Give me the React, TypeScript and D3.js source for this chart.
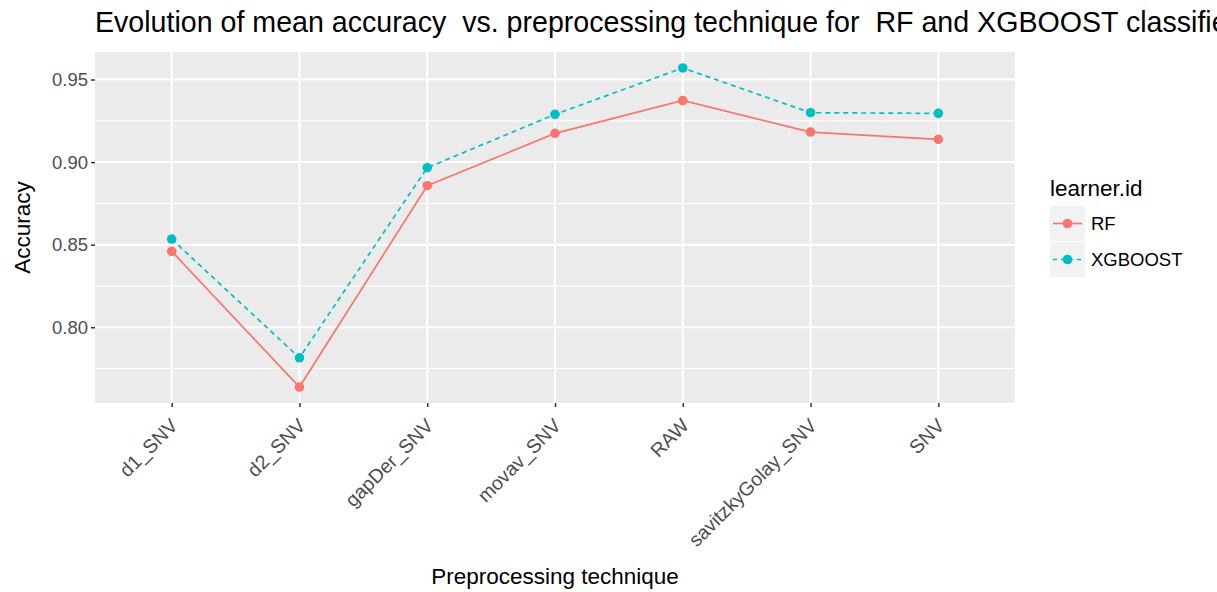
import { useEffect, useRef } from 'react'
import * as d3 from 'd3'

// data
const techniques = ['d1_SNV', 'd2_SNV', 'gapDer_SNV', 'movav_SNV', 'RAW', 'savitzkyGolay_SNV', 'SNV']
const rfAccuracy = [0.846, 0.7638, 0.8857, 0.9174, 0.9373, 0.9182, 0.9138]
const xgbAccuracy = [0.8534, 0.7815, 0.8966, 0.9289, 0.957, 0.9299, 0.9295]
const yTicks = [0.8, 0.85, 0.9, 0.95]
const learners = ['RF', 'XGBOOST']
const learnerColors = ['#F8766D', '#00BFC4']

const W = 1217
const H = 592
const FONT = 'Liberation Sans, Arial, sans-serif'

const App = () => {
  const ref = useRef<SVGSVGElement>(null)

  useEffect(() => {
    if (!ref.current) return
    const svg = d3.select(ref.current)
    svg.selectAll('*').remove()

    const margin = { top: 52, right: 202, bottom: 189, left: 95 }
    const width = W - margin.left - margin.right
    const height = H - margin.top - margin.bottom

    // ggplot style discrete x with 0.6 expansion
    const x = d3.scalePoint<string>()
      .domain(techniques)
      .range([0, width])
      .padding(0.6)

    // 5% expansion like ggplot
    const all = rfAccuracy.concat(xgbAccuracy)
    const lo = d3.min(all) as number
    const hi = d3.max(all) as number
    const pad = (hi - lo) * 0.05
    const y = d3.scaleLinear().domain([lo - pad, hi + pad]).range([height, 0])

    // title (runs off the right edge, as in the original)
    svg.append('text')
      .attr('x', 95)
      .attr('y', 32)
      .style('font-family', FONT)
      .style('font-size', '28.6px')
      .style('fill', '#000')
      .style('white-space', 'pre')
      .text('Evolution of mean accuracy  vs. preprocessing technique for  RF and XGBOOST classifier')

    const g = svg.append('g').attr('transform', `translate(${margin.left},${margin.top})`)

    // panel
    g.append('rect')
      .attr('width', width)
      .attr('height', height)
      .attr('fill', '#EBEBEB')

    // minor grid
    const minor = yTicks.slice(0, -1).map((t, i) => (t + yTicks[i + 1]) / 2)
    minor.unshift(yTicks[0] - 0.025)
    minor.push(yTicks[yTicks.length - 1] + 0.025)
    g.selectAll('.minor')
      .data(minor.filter(v => v > y.domain()[0] && v < y.domain()[1]))
      .enter()
      .append('line')
      .attr('x1', 0)
      .attr('x2', width)
      .attr('y1', d => y(d))
      .attr('y2', d => y(d))
      .attr('stroke', '#fff')
      .attr('stroke-width', 1)

    // major grid
    g.selectAll('.hmajor')
      .data(yTicks)
      .enter()
      .append('line')
      .attr('x1', 0)
      .attr('x2', width)
      .attr('y1', d => y(d))
      .attr('y2', d => y(d))
      .attr('stroke', '#fff')
      .attr('stroke-width', 2)

    g.selectAll('.vmajor')
      .data(techniques)
      .enter()
      .append('line')
      .attr('x1', d => x(d) as number)
      .attr('x2', d => x(d) as number)
      .attr('y1', 0)
      .attr('y2', height)
      .attr('stroke', '#fff')
      .attr('stroke-width', 2)

    // lines and points
    const series = [rfAccuracy, xgbAccuracy]
    const line = d3.line<number>()
      .x((_, i) => x(techniques[i]) as number)
      .y(d => y(d))

    series.forEach((vals, k) => {
      g.append('path')
        .datum(vals)
        .attr('d', line)
        .attr('fill', 'none')
        .attr('stroke', learnerColors[k])
        .attr('stroke-width', 1.7)
        .attr('stroke-dasharray', k === 1 ? '5,4' : null)
    })
    series.forEach((vals, k) => {
      g.selectAll(`.pt${k}`)
        .data(vals)
        .enter()
        .append('circle')
        .attr('cx', (_, i) => x(techniques[i]) as number)
        .attr('cy', d => y(d))
        .attr('r', 4.8)
        .attr('fill', learnerColors[k])
    })

    // y axis
    const yAxis = g.append('g')
      .call(d3.axisLeft(y).tickValues(yTicks).tickFormat(d3.format('.2f')).tickSize(4).tickPadding(3))
    yAxis.select('.domain').remove()
    yAxis.selectAll('line').attr('stroke', '#333').attr('stroke-width', 1.5)
    yAxis.selectAll('text')
      .style('font-family', FONT)
      .style('font-size', '18.5px')
      .style('fill', '#4D4D4D')

    // x axis
    const xAxis = g.append('g')
      .attr('transform', `translate(0,${height})`)
      .call(d3.axisBottom(x).tickSize(4).tickPadding(3))
    xAxis.select('.domain').remove()
    xAxis.selectAll('line').attr('stroke', '#333').attr('stroke-width', 1.5)
    xAxis.selectAll('text')
      .style('font-family', FONT)
      .style('font-size', '19.5px')
      .style('fill', '#4D4D4D')
      .style('text-anchor', 'end')
      .attr('dy', '0.35em')
      .attr('transform', 'translate(-3,14) rotate(-45)')

    // axis titles
    svg.append('text')
      .attr('x', margin.left + width / 2)
      .attr('y', 584)
      .attr('text-anchor', 'middle')
      .style('font-family', FONT)
      .style('font-size', '22.5px')
      .text('Preprocessing technique')

    svg.append('text')
      .attr('transform', `translate(30,${margin.top + height / 2}) rotate(-90)`)
      .attr('text-anchor', 'middle')
      .style('font-family', FONT)
      .style('font-size', '22.5px')
      .text('Accuracy')

    // legend
    const lg = svg.append('g').attr('transform', 'translate(1050,0)')
    lg.append('text')
      .attr('x', 0)
      .attr('y', 196)
      .style('font-family', FONT)
      .style('font-size', '22.5px')
      .text('learner.id')

    learners.forEach((name, k) => {
      const top = 206 + k * 36
      lg.append('rect')
        .attr('x', 0)
        .attr('y', top)
        .attr('width', 35)
        .attr('height', 35)
        .attr('fill', '#F2F2F2')
      lg.append('line')
        .attr('x1', 3)
        .attr('x2', 32)
        .attr('y1', top + 17.5)
        .attr('y2', top + 17.5)
        .attr('stroke', learnerColors[k])
        .attr('stroke-width', 1.7)
        .attr('stroke-dasharray', k === 1 ? '4,4' : null)
      lg.append('circle')
        .attr('cx', 17.5)
        .attr('cy', top + 17.5)
        .attr('r', 4.8)
        .attr('fill', learnerColors[k])
      lg.append('text')
        .attr('x', 41)
        .attr('y', top + 17.5)
        .attr('dy', '0.35em')
        .style('font-family', FONT)
        .style('font-size', '18.5px')
        .style('fill', '#000')
        .text(name)
    })
  }, [])

  return (
    <svg
      ref={ref}
      width={W}
      height={H}
      style={{ position: 'absolute', left: 0, top: 0, background: '#fff' }}
    />
  )
}

export default App
